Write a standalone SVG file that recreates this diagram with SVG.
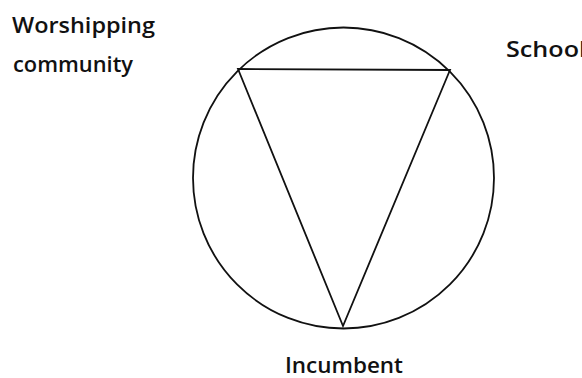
<svg xmlns="http://www.w3.org/2000/svg" width="582" height="378" viewBox="0 0 582 378">
  <style>
    .lbl { font-family: "Open Sans", "Liberation Sans", sans-serif; font-size: 22px; font-weight: 600; fill: #111; }
    .ln { fill: none; stroke: #111; stroke-width: 1.8; stroke-linejoin: miter; }
  </style>
  <rect width="582" height="378" fill="#fff"/>
  <g id="connectors">
    <circle class="ln" cx="343.5" cy="178" r="150.5"/>
    <polygon class="ln" points="238,69 450,70 343,326"/>
  </g>
  <g id="node-worshipping">
    <text class="lbl" x="12" y="33" textLength="143" lengthAdjust="spacingAndGlyphs">Worshipping</text>
    <text class="lbl" x="13" y="72" textLength="120" lengthAdjust="spacingAndGlyphs">community</text>
  </g>
  <g id="node-school">
    <text class="lbl" x="506" y="57" textLength="80" lengthAdjust="spacingAndGlyphs">School</text>
  </g>
  <g id="node-incumbent">
    <text class="lbl" x="285" y="373" textLength="118" lengthAdjust="spacingAndGlyphs">Incumbent</text>
  </g>
</svg>
